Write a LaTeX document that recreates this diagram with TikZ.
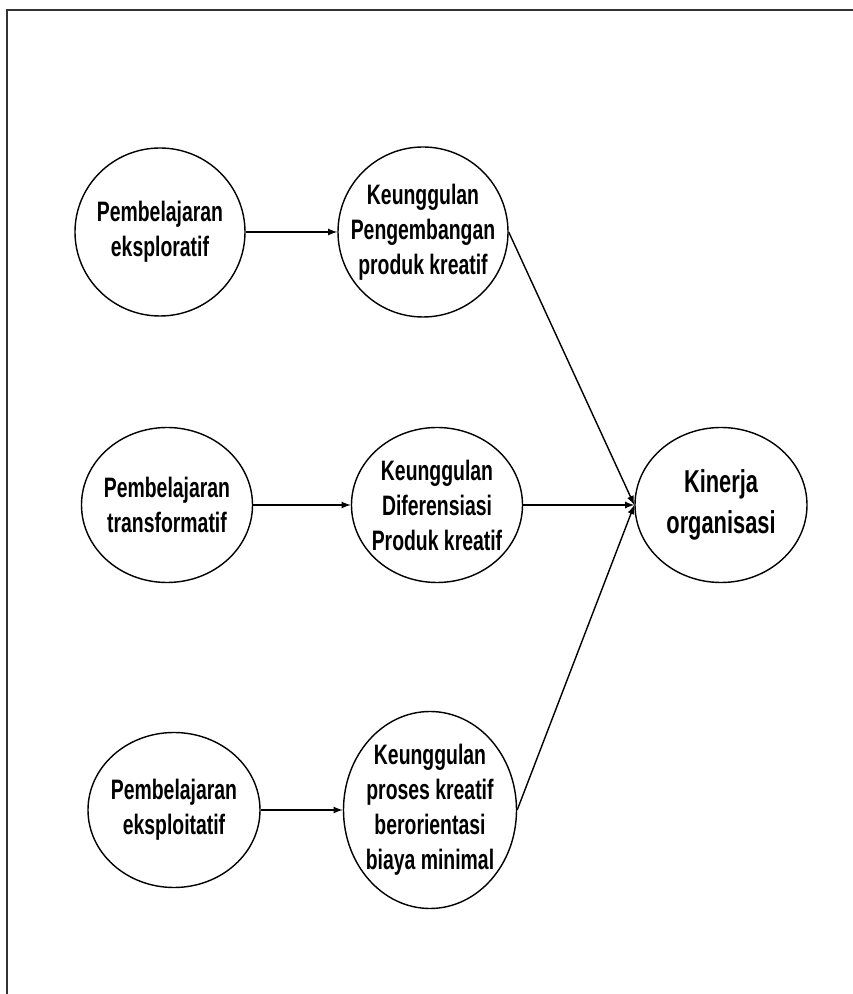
\documentclass[tikz,border=0pt]{standalone}
\usepackage{fontspec}
\setmainfont{Liberation Sans}[FakeStretch=0.69]
\usepackage{tikz}
\usetikzlibrary{arrows,shapes.geometric,positioning}
\tikzstyle{factor}=[draw,ellipse,inner sep=0pt]
\tikzstyle{outcome}=[draw,ellipse,inner sep=0pt]
\tikzstyle{factortext}=[align=center,font=\bfseries\fontsize{16}{19.9}\selectfont]
\tikzstyle{outcometext}=[align=center,font=\bfseries\fontsize{18}{23.5}\selectfont]

\begin{document}
\begin{tikzpicture}[line width=0.8pt,>=latex]
\useasboundingbox (0,0) rectangle (17.06,19.88);
% frame (cut off at the bottom and right)
\draw[line width=1.3pt,black!80] (0.14,0) -- (0.14,19.68) -- (17.06,19.68);
\draw (3.2, 15.24) node [factor, minimum width=3.4cm, minimum height=3.36cm, label={[factortext]center:Pembelajaran\\eksploratif}] (v1) {};
\draw (8.46, 15.24) node [factor, minimum width=3.4cm, minimum height=3.4cm, label={[factortext]center:Keunggulan\\Pengembangan\\produk kreatif}] (v2) {};
\draw (3.34, 9.78) node [factor, minimum width=3.42cm, minimum height=3.1cm, label={[factortext]center:Pembelajaran\\transformatif}] (v3) {};
\draw (8.74, 9.78) node [factor, minimum width=3.42cm, minimum height=3.1cm, label={[factortext]center:Keunggulan\\Diferensiasi\\Produk kreatif}] (v4) {};
\draw (14.42, 9.78) node [outcome, minimum width=3.44cm, minimum height=3.1cm, label={[outcometext]center:Kinerja\\organisasi}] (v5) {};
\draw (3.48, 3.68) node [factor, minimum width=3.44cm, minimum height=3.1cm, label={[factortext]center:Pembelajaran\\eksploitatif}] (v6) {};
\draw (8.6, 3.68) node [factor, minimum width=3.46cm, minimum height=3.94cm, label={[factortext]center:Keunggulan\\proses kreatif\\berorientasi\\biaya minimal}] (v7) {};
\draw[->] (v1) -- (v2);
\draw[->] (v3) -- (v4);
\draw[->] (v6) -- (v7);
\draw[->] (v2.east) -- (v5.west);
\draw[->] (v4) -- (v5.west);
\draw[->] (v7.east) -- (v5.west);
\end{tikzpicture}
\end{document}
